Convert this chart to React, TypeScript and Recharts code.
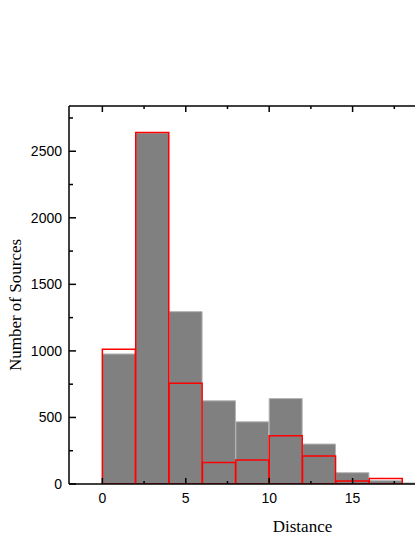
import React from 'react';
import { BarChart, Bar, XAxis, YAxis } from 'recharts';

// histogram bins, width 2 (left edges)
const binStarts = [-2, 0, 2, 4, 6, 8, 10, 12, 14, 16, 18];
// gray filled histogram
const allSources = [null, 977, 2637, 1295, 625, 467, 642, 300, 85, 25, 8];
// red outlined histogram
const subSample = [null, 1012, 2640, 757, 162, 180, 363, 210, 22, 42, null];

const distanceTicks = [0, 2.5, 5, 7.5, 10, 12.5, 15, 17.5];
const countTicks = [0, 250, 500, 750, 1000, 1250, 1500, 1750, 2000, 2250, 2500, 2750];

const data = binStarts.map((start, i) => ({
  bin: `${start}–${start + 2}`,
  start,
  all: allSources[i],
  sub: subSample[i],
}));

const SANS = "'Liberation Sans', Arial, sans-serif";
const SERIF = "'Liberation Serif', 'Times New Roman', serif";

const BottomTick = (props: any) => {
  const { x, y, payload } = props;
  const major = payload.value % 5 === 0;
  return (
    <g>
      <line x1={x} x2={x} y1={y} y2={y - (major ? 6 : 3)} stroke="#000" strokeWidth={1.5} />
      {major && (
        <text x={x} y={y + 19} textAnchor="middle" fontFamily={SANS} fontSize={14} fill="#000">
          {payload.value}
        </text>
      )}
    </g>
  );
};

const TopTick = (props: any) => {
  const { x, y, payload } = props;
  const major = payload.value % 5 === 0;
  return <line x1={x} x2={x} y1={y} y2={y + (major ? 6 : 3)} stroke="#000" strokeWidth={1.5} />;
};

const LeftTick = (props: any) => {
  const { x, y, payload } = props;
  const major = payload.value % 500 === 0;
  return (
    <g>
      <line x1={x} x2={x + (major ? 7 : 4)} y1={y} y2={y} stroke="#000" strokeWidth={1.5} />
      {major && (
        <text x={x - 7} y={y + 5} textAnchor="end" fontFamily={SANS} fontSize={14} fill="#000">
          {payload.value}
        </text>
      )}
    </g>
  );
};

const yTitle = (props: any) => {
  const { viewBox } = props;
  const cx = viewBox.x + 12;
  const cy = viewBox.y + viewBox.height / 2 + 10;
  return (
    <text x={cx} y={cy} transform={`rotate(-90 ${cx} ${cy})`} textAnchor="middle" fontFamily={SERIF} fontSize={17} fill="#000">
      Number of Sources
    </text>
  );
};

const xTitle = (props: any) => {
  const { viewBox } = props;
  const cx = viewBox.x + viewBox.width / 2 + 50;
  return (
    <text x={cx} y={viewBox.y + 48} textAnchor="middle" fontFamily={SERIF} fontSize={17} fill="#000">
      Distance
    </text>
  );
};

export default function App() {
  return (
    <div style={{ position: 'absolute', left: 0, top: 0, width: 415, height: 537, overflow: 'hidden', background: '#fff' }}>
      <BarChart
        width={446}
        height={537}
        data={data}
        margin={{ top: 96, right: 10, bottom: 8, left: 9 }}
        barCategoryGap={0}
        barGap={0}
      >
        <XAxis xAxisId="a" dataKey="bin" hide height={0} />
        <XAxis xAxisId="b" dataKey="bin" hide height={0} />
        <YAxis
          type="number"
          domain={[0, 2840]}
          ticks={countTicks}
          allowDataOverflow
          width={60}
          tickLine={false}
          tickSize={0}
          tickMargin={0}
          tick={<LeftTick />}
          axisLine={{ stroke: '#000', strokeWidth: 1.5 }}
          label={yTitle}
        />
        <Bar xAxisId="a" dataKey="all" fill="#808080" stroke="#b4b4b4" strokeWidth={1} isAnimationActive={false} />
        <Bar xAxisId="b" dataKey="sub" fill="none" stroke="#ff0000" strokeWidth={1.5} isAnimationActive={false} />
        <XAxis
          xAxisId="bottom"
          dataKey="start"
          type="number"
          domain={[-2, 20]}
          ticks={distanceTicks}
          allowDataOverflow
          height={45}
          tickLine={false}
          tickSize={0}
          tickMargin={0}
          tick={<BottomTick />}
          axisLine={{ stroke: '#000', strokeWidth: 1.5 }}
          label={xTitle}
        />
        <XAxis
          xAxisId="top"
          dataKey="start"
          orientation="top"
          type="number"
          domain={[-2, 20]}
          ticks={distanceTicks}
          allowDataOverflow
          height={10}
          tickLine={false}
          tickSize={0}
          tickMargin={0}
          tick={<TopTick />}
          axisLine={{ stroke: '#000', strokeWidth: 1.5 }}
        />
      </BarChart>
    </div>
  );
}
